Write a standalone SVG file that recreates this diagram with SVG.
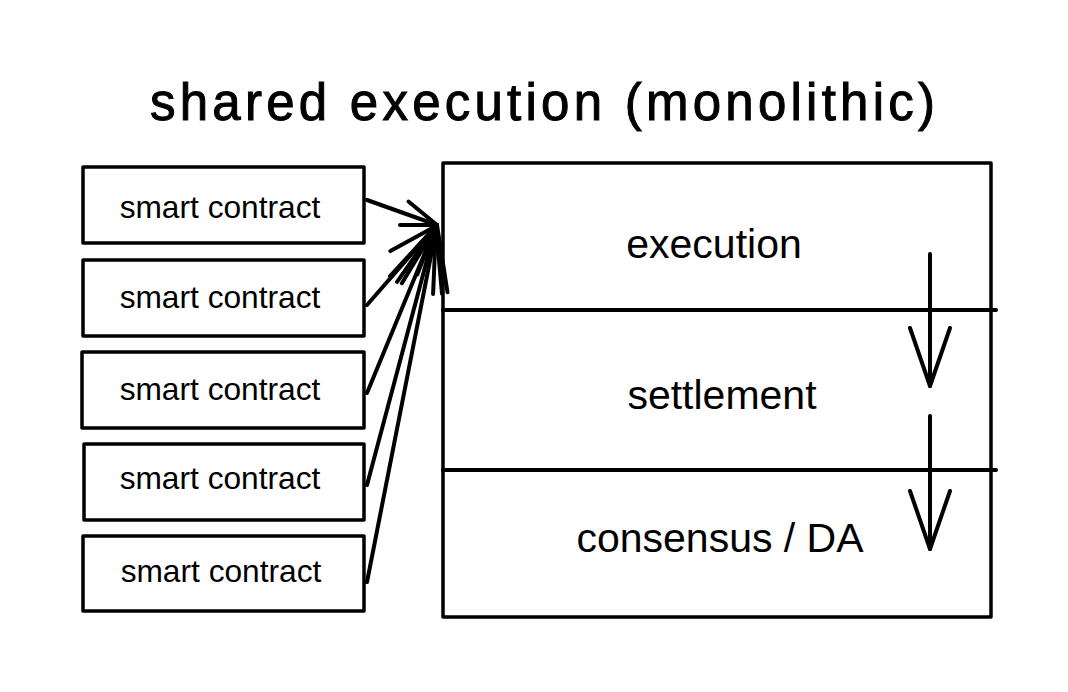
<svg xmlns="http://www.w3.org/2000/svg" width="1068" height="692" viewBox="0 0 1068 692">
<style>
  .box { fill: #ffffff; stroke: #000000; stroke-width: 3.5; stroke-linejoin: round; }
  .ln { fill: none; stroke: #000000; stroke-width: 4; stroke-linecap: round; stroke-linejoin: round; }
  .lbl { font-family: "Liberation Sans", Arial, Helvetica, sans-serif; fill: #000000; text-anchor: middle; }
  .sc { font-size: 31.7px; }
  .layer { font-size: 41px; }
  .title { font-family: "Liberation Sans", Arial, sans-serif; font-size: 51px; fill: #000000; stroke: #000000; stroke-width: 1; }
</style>
<rect x="0" y="0" width="1068" height="692" fill="#ffffff"/>

<text class="title" x="150" y="120" textLength="785" lengthAdjust="spacing">shared execution (monolithic)</text>

<g id="monolith">
  <rect class="box" x="443" y="163" width="548" height="454"/>
  <line class="ln" x1="443" y1="310" x2="996" y2="310" stroke-width="3.5"/>
  <line class="ln" x1="443" y1="470" x2="996" y2="470" stroke-width="3.5"/>
</g>
<g id="execution">
  <text class="lbl layer" x="714" y="258">execution</text>
</g>
<g id="settlement">
  <text class="lbl layer" x="722" y="409">settlement</text>
</g>
<g id="consensus">
  <text class="lbl layer" x="720" y="552">consensus / DA</text>
</g>

<g id="sc1">
  <rect class="box" x="83" y="167" width="281" height="76"/>
  <text class="lbl sc" x="220" y="218">smart contract</text>
</g>
<g id="sc2">
  <rect class="box" x="83" y="260" width="281" height="76"/>
  <text class="lbl sc" x="220" y="308">smart contract</text>
</g>
<g id="sc3">
  <rect class="box" x="82" y="352" width="282" height="76"/>
  <text class="lbl sc" x="220" y="400">smart contract</text>
</g>
<g id="sc4">
  <rect class="box" x="84" y="444" width="280" height="76"/>
  <text class="lbl sc" x="220" y="489">smart contract</text>
</g>
<g id="sc5">
  <rect class="box" x="83" y="536" width="281" height="75"/>
  <text class="lbl sc" x="221" y="582">smart contract</text>
</g>

<g id="connectors">
  <line class="ln" x1="367" y1="200" x2="437" y2="225"/>
  <polyline class="ln" points="408.5,201.5 437,225 400,225"/>
  <line class="ln" x1="367" y1="305" x2="436" y2="226"/>
  <polyline class="ln" points="390.4,251.1 436,226 417.3,274.5"/>
  <line class="ln" x1="367" y1="393" x2="436" y2="226"/>
  <polyline class="ln" points="390.1,276.1 436,226 433.1,293.9"/>
  <line class="ln" x1="367" y1="485" x2="436" y2="226"/>
  <polyline class="ln" points="397.1,281.8 436,226 442,293.7"/>
  <line class="ln" x1="367" y1="582" x2="437" y2="225"/>
  <polyline class="ln" points="401.9,283.2 437,225 447.5,292.2"/>

  <line class="ln" x1="930" y1="254" x2="930" y2="386"/>
  <polyline class="ln" points="910,328 930,386 950,328"/>
  <line class="ln" x1="930" y1="416" x2="930" y2="549"/>
  <polyline class="ln" points="910,491 930,549 950,491"/>
</g>
</svg>
